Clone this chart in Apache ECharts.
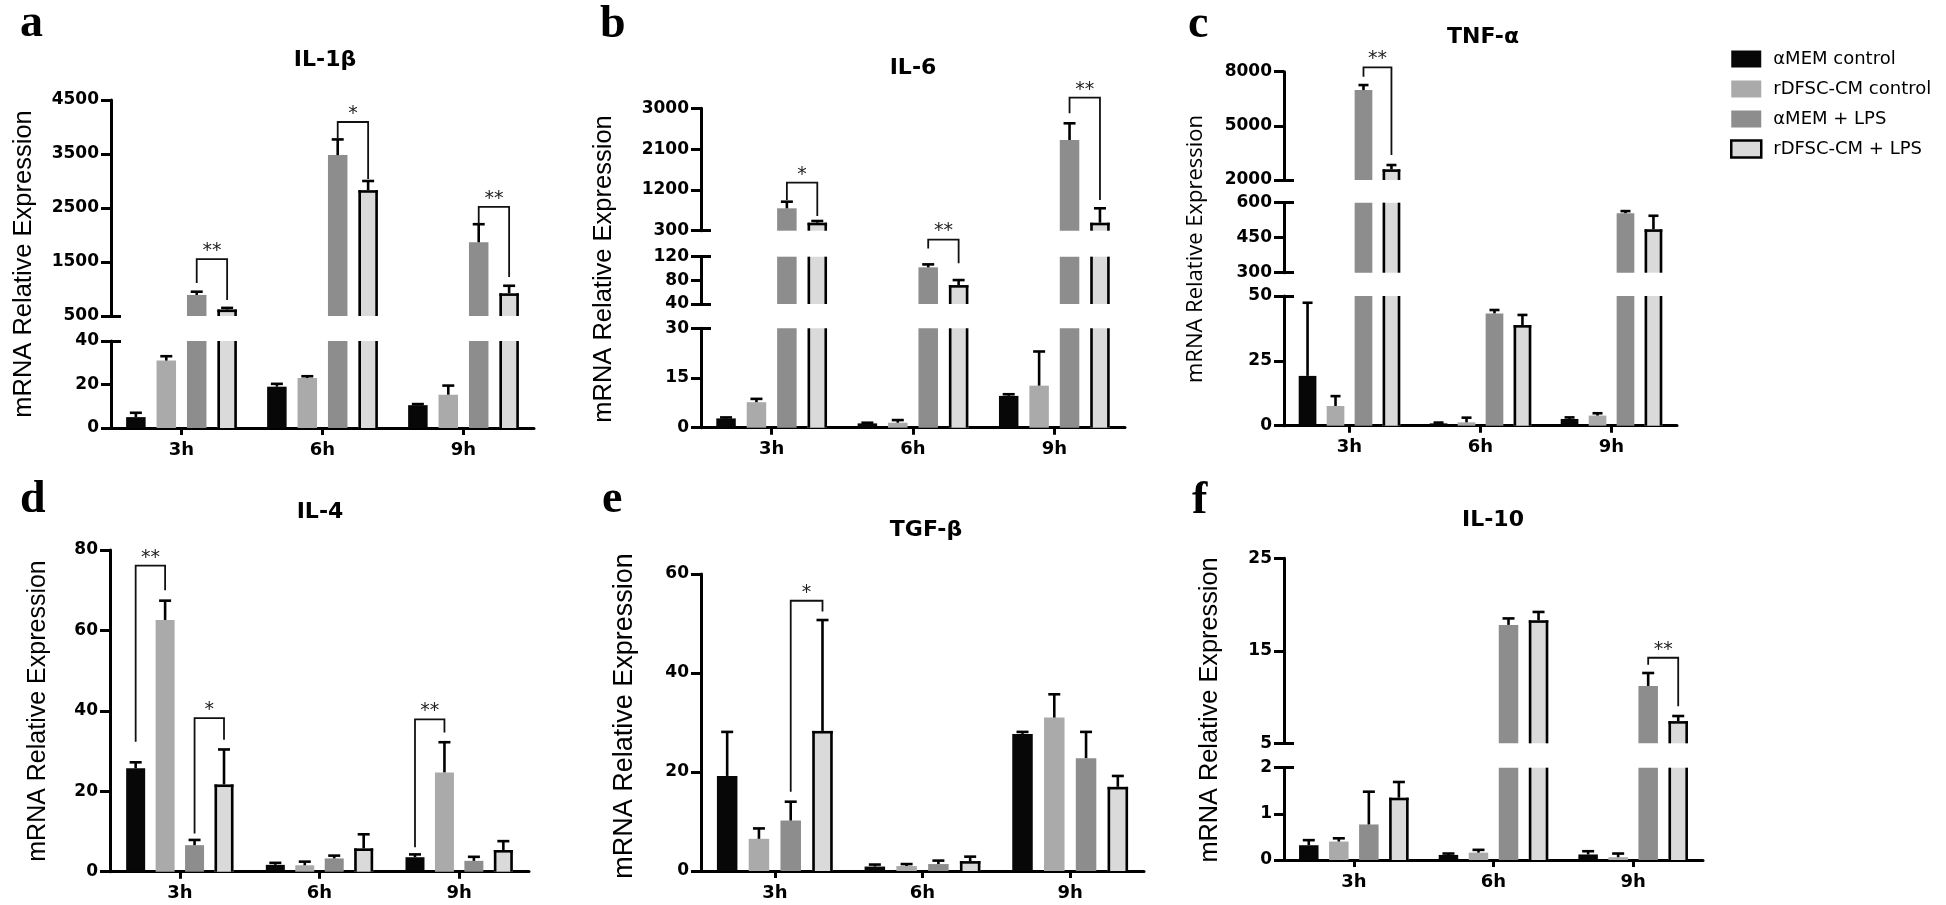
<!DOCTYPE html>
<html><head><meta charset="utf-8">
<script src="https://cdn.jsdelivr.net/npm/echarts@6/dist/echarts.min.js"></script>
<style>html,body{margin:0;padding:0;background:#fff}#c{width:1946px;height:905px}</style>
</head><body><div id="c"></div>
<script>
// ---------- data ----------
const categories = ['3h', '6h', '9h'];
const groups = ['αMEM control', 'rDFSC-CM control', 'αMEM + LPS', 'rDFSC-CM + LPS'];

// a) IL-1β  (rows = groups, columns = categories)
const il1bMean = [[5, 19, 10.5], [31, 23, 15.3], [890, 3480, 1865], [620, 2830, 920]];
const il1bErr  = [[2, 1.3, 0.5], [2, 0.8, 4.2], [60, 290, 335], [30, 170, 140]];
const il1bTicksUpper = [500, 1500, 2500, 3500, 4500];
const il1bTicksLower = [0, 20, 40];
// [category, leftGroup, rightGroup, top, leftEnd, rightEnd, label, segment]
const il1bSig = [[0, 2, 3, 1555, 1111, 796, '**', 0], [1, 2, 3, 4093, 3796, 3037, '*', 0], [2, 2, 3, 2519, 2204, 1222, '**', 0]];

// b) IL-6
const il6Mean = [[2.8, 1.3, 9.6], [7.7, 1.5, 12.7], [794, 102, 2301], [476, 72, 476]];
const il6Err  = [[0.3, 0.2, 0.5], [1.0, 0.8, 10.3], [146, 5, 368], [38, 8.5, 318]];
const il6TicksUpper = [300, 1200, 2100, 3000];
const il6TicksMiddle = [40, 80, 120];
const il6TicksLower = [0, 15, 30];
const il6Sig = [[0, 2, 3, 1359, 977, 624, '*', 0], [1, 2, 3, 149, 134, 109, '**', 1], [2, 2, 3, 3234, 2890, 977, '**', 0]];

// c) TNF-α
const tnfMean = [[19.2, 0.9, 2.6], [7.6, 1.3, 3.9], [6983, 43.3, 555], [2592, 38.8, 486]];
const tnfErr  = [[28.2, 0.3, 0.6], [3.8, 1.8, 0.9], [277, 1.3, 9], [238, 3.9, 58]];
const tnfTicksUpper = [2000, 5000, 8000];
const tnfTicksMiddle = [300, 450, 600];
const tnfTicksLower = [0, 25, 50];
const tnfSig = [[0, 2, 3, 8240, 7720, 3384, '**', 0]];

// d) IL-4
const il4Mean = [[25.7, 1.7, 3.6], [62.6, 1.6, 24.7], [6.6, 3.3, 2.7], [21.7, 5.8, 5.4]];
const il4Err  = [[1.5, 0.5, 0.7], [4.8, 0.9, 7.5], [1.3, 0.7, 1.0], [8.7, 3.5, 2.2]];
const il4Ticks = [0, 20, 40, 60, 80];
const il4Sig = [[0, 0, 1, 76.1, 32.3, 70, '**', 0], [0, 2, 3, 38.2, 9.5, 32.8, '*', 0], [2, 0, 1, 37.9, 6.1, 34.6, '**', 0]];

// e) TGF-β
const tgfMean = [[19.2, 0.9, 27.7], [6.5, 1.0, 31], [10.2, 1.4, 22.8], [28.3, 2.0, 17.0]];
const tgfErr  = [[8.9, 0.4, 0.4], [2.1, 0.4, 4.7], [3.8, 0.7, 5.3], [22.4, 0.9, 2.2]];
const tgfTicks = [0, 20, 40, 60];
const tgfSig = [[0, 2, 3, 54.6, 16.0, 52.4, '*', 0]];

// f) IL-10
const il10Mean = [[0.32, 0.11, 0.12], [0.40, 0.16, 0.06], [0.77, 17.8, 11.2], [1.35, 18.3, 7.4]];
const il10Err  = [[0.11, 0.03, 0.07], [0.07, 0.06, 0.08], [0.71, 0.7, 1.4], [0.34, 0.9, 0.55]];
const il10TicksUpper = [5, 15, 25];
const il10TicksLower = [0, 1, 2];
const il10Sig = [[2, 2, 3, 14.25, 13.5, 9.0, '**', 0]];

// ---------- styling / layout ----------
const colors = ['#070707', '#aaaaaa', '#8d8d8d', '#dadada'];
const AXIS = '#000';

const panels = [
  { title: 'IL-1β', letter: 'a', mean: il1bMean, err: il1bErr, sig: il1bSig,
    left: 111, width: 423, barW: 19.5, gap: 0.56, capW: 12,
    segs: [{ min: 500, max: 4500, top: 100, bottom: 316, ticks: il1bTicksUpper, breaks: [500] },
           { min: 0, max: 40, top: 341, bottom: 428, ticks: il1bTicksLower, breaks: [40] }],
    titlePos: [325, 60], letterPos: [20, 24], namePos: [24, 264], nameSize: 25.5, nameFont: 'Liberation Sans' },
  { title: 'IL-6', letter: 'b', mean: il6Mean, err: il6Err, sig: il6Sig,
    left: 701, width: 424, barW: 19.5, gap: 0.56, capW: 12,
    segs: [{ min: 300, max: 3000, top: 108.3, bottom: 230.7, ticks: il6TicksUpper, breaks: [300] },
           { min: 40, max: 120, top: 256.7, bottom: 304, ticks: il6TicksMiddle, breaks: [40, 120] },
           { min: 0, max: 30, top: 328.3, bottom: 427.7, ticks: il6TicksLower, breaks: [30] }],
    titlePos: [913, 68], letterPos: [600, 25], namePos: [604, 269], nameSize: 25.5, nameFont: 'Liberation Sans' },
  { title: 'TNF-α', letter: 'c', mean: tnfMean, err: tnfErr, sig: tnfSig,
    left: 1284, width: 393, barW: 17.7, gap: 0.58, capW: 10,
    segs: [{ min: 2000, max: 8000, top: 71.7, bottom: 180, ticks: tnfTicksUpper, breaks: [2000] },
           { min: 300, max: 600, top: 202.7, bottom: 272.7, ticks: tnfTicksMiddle, breaks: [300, 600] },
           { min: 0, max: 50, top: 296, bottom: 425.7, ticks: tnfTicksLower, breaks: [50] }],
    titlePos: [1483, 37], letterPos: [1188, 25], namePos: [1196, 249], nameSize: 22, nameFont: 'Open Sans' },
  { title: 'IL-4', letter: 'd', mean: il4Mean, err: il4Err, sig: il4Sig,
    left: 110, width: 419, barW: 19, gap: 0.55, capW: 12,
    segs: [{ min: 0, max: 80, top: 550, bottom: 871.7, ticks: il4Ticks, breaks: [] }],
    titlePos: [320, 512], letterPos: [20, 500], namePos: [38, 711], nameSize: 25, nameFont: 'Liberation Sans' },
  { title: 'TGF-β', letter: 'e', mean: tgfMean, err: tgfErr, sig: tgfSig,
    left: 701, width: 443, barW: 20.5, gap: 0.55, capW: 12,
    segs: [{ min: 0, max: 60, top: 574, bottom: 871, ticks: tgfTicks, breaks: [] }],
    titlePos: [926, 530], letterPos: [602, 500], namePos: [625, 716], nameSize: 27, nameFont: 'Liberation Sans' },
  { title: 'IL-10', letter: 'f', mean: il10Mean, err: il10Err, sig: il10Sig,
    left: 1284, width: 419, barW: 19.5, gap: 0.54, capW: 12,
    segs: [{ min: 5, max: 25, top: 558.3, bottom: 743.3, ticks: il10TicksUpper, breaks: [5] },
           { min: 0, max: 2, top: 767.7, bottom: 860, ticks: il10TicksLower, breaks: [2] }],
    titlePos: [1493, 520], letterPos: [1192, 501], namePos: [1210, 710], nameSize: 25.3, nameFont: 'Liberation Sans' }
];

function barCenter(api, p, cat, k) {
  const c = api.coord([cat, 0])[0];
  const w = p.barW, g = p.gap;
  const total = 4 * w + 3 * g * w;
  return c - total / 2 + k * (w + g * w) + w / 2;
}

function makeDecor(p, s) {
  return function (params, api) {
    const cat = api.value(0), k = api.value(1), v = api.value(2), e = api.value(3);
    const cx = barCenter(api, p, cat, k);
    const yOf = val => api.coord([cat, val])[1];
    const children = [];
    const lw = 2.6;
    if (k === 3 && v > s.min) {
      const yT = yOf(Math.min(v, s.max)), yB = yOf(s.min);
      const xl = cx - p.barW / 2 + lw / 2, xr = cx + p.barW / 2 - lw / 2;
      children.push({ type: 'line', shape: { x1: xl, y1: yB, x2: xl, y2: yT }, style: { stroke: '#000', lineWidth: lw } });
      children.push({ type: 'line', shape: { x1: xr, y1: yB, x2: xr, y2: yT }, style: { stroke: '#000', lineWidth: lw } });
      if (v <= s.max) {
        children.push({ type: 'line', shape: { x1: xl - lw / 2, y1: yT + lw / 2, x2: xr + lw / 2, y2: yT + lw / 2 }, style: { stroke: '#000', lineWidth: lw } });
      }
    }
    if (v >= s.min && v <= s.max) {
      const yT = yOf(v), yE = yOf(v + e);
      children.push({ type: 'line', shape: { x1: cx, y1: yT, x2: cx, y2: yE }, style: { stroke: '#000', lineWidth: 2.6 } });
      children.push({ type: 'line', shape: { x1: cx - p.capW / 2, y1: yE, x2: cx + p.capW / 2, y2: yE }, style: { stroke: '#000', lineWidth: 2.6 } });
    }
    return { type: 'group', children };
  };
}

function makeBracket(p, list) {
  return function (params, api) {
    const b = list[params.dataIndex];
    const cat = b[0];
    const xl = barCenter(api, p, cat, b[1]), xr = barCenter(api, p, cat, b[2]);
    const yTop = api.coord([cat, b[3]])[1], yL = api.coord([cat, b[4]])[1], yR = api.coord([cat, b[5]])[1];
    return { type: 'group', children: [
      { type: 'polyline', shape: { points: [[xl, yL], [xl, yTop], [xr, yTop], [xr, yR]] }, style: { stroke: '#111', lineWidth: 1.8, fill: null } },
      { type: 'text', style: { text: b[6], x: (xl + xr) / 2, y: yTop - 8, align: 'center', verticalAlign: 'middle', fontSize: 19, fontFamily: 'DejaVu Sans', fill: '#222' } }
    ] };
  };
}

const option = {
  animation: false,
  backgroundColor: '#fff',
  grid: [], xAxis: [], yAxis: [], series: [], graphic: [],
  legend: {
    orient: 'vertical', left: 1725, top: 44, itemWidth: 30, itemHeight: 17, itemGap: 10, icon: 'rect',
    selectedMode: false,
    textStyle: { fontFamily: 'DejaVu Sans', fontSize: 18, color: '#000', lineHeight: 20, padding: [0, 0, 0, 7] },
    data: groups.map((g, k) => ({ name: g, itemStyle: k === 3 ? { color: colors[3], borderColor: '#000', borderWidth: 2.5 } : { color: colors[k], borderWidth: 0 } }))
  }
};

panels.forEach(p => {
  p.segs.forEach((s, si) => {
    const gi = option.grid.length;
    const isBottom = si === p.segs.length - 1;
    option.grid.push({ left: p.left, width: p.width, top: s.top, height: s.bottom - s.top, containLabel: false, outerBoundsMode: 'none' });
    option.xAxis.push({
      type: 'category', gridIndex: gi, data: categories, show: isBottom,
      axisLine: { show: true, lineStyle: { color: AXIS, width: 3 } },
      axisTick: { show: true, alignWithLabel: true, length: 7, lineStyle: { color: AXIS, width: 3 } },
      axisLabel: { color: '#000', fontFamily: 'DejaVu Sans', fontWeight: 'bold', fontSize: 18, margin: 13 },
      splitLine: { show: false }
    });
    const yi = option.yAxis.length;
    option.yAxis.push({
      type: 'value', gridIndex: gi, min: s.min, max: s.max, position: 'left', offset: 0,
      splitLine: { show: false },
      axisLine: { show: true, lineStyle: { color: AXIS, width: 3 } },
      axisTick: { show: true, length: 10, lineStyle: { color: AXIS, width: 3 }, customValues: s.ticks },
      axisLabel: { customValues: s.ticks, formatter: v => String(v), color: '#000', fontFamily: 'DejaVu Sans', fontWeight: 'bold', fontSize: 17, margin: 12 }
    });
    if (s.breaks.length) {
      option.yAxis.push({
        type: 'value', gridIndex: gi, min: s.min, max: s.max, position: 'left', offset: 0,
        splitLine: { show: false }, axisLine: { show: false }, axisLabel: { show: false },
        axisTick: { show: true, inside: true, length: 10, lineStyle: { color: AXIS, width: 3 }, customValues: s.breaks }
      });
    }
    groups.forEach((g, k) => {
      option.series.push({
        type: 'bar', name: g, xAxisIndex: gi, yAxisIndex: yi, barWidth: p.barW, barGap: (p.gap * 100) + '%',
        clip: true, silent: true, z: 2,
        itemStyle: { color: colors[k] },
        data: p.mean[k].map(v => (v > s.min ? v : null))
      });
    });
    const decorData = [];
    p.mean.forEach((arr, k) => arr.forEach((v, c) => decorData.push([c, k, v, p.err[k][c]])));
    option.series.push({
      type: 'custom', xAxisIndex: gi, yAxisIndex: yi, z: 5, silent: true, clip: false,
      encode: { x: 0, y: 2 }, data: decorData, renderItem: makeDecor(p, s)
    });
    const br = p.sig.filter(b => b[7] === si);
    if (br.length) {
      option.series.push({
        type: 'custom', xAxisIndex: gi, yAxisIndex: yi, z: 6, silent: true, clip: false,
        encode: { x: 0, y: 3 }, data: br.map(b => b.slice(0, 6)), renderItem: makeBracket(p, br)
      });
    }
  });
  option.graphic.push({ type: 'text', x: p.titlePos[0], y: p.titlePos[1],
    style: { text: p.title, align: 'center', verticalAlign: 'middle', fontFamily: 'DejaVu Sans', fontWeight: 'bold', fontSize: 22, fill: '#000' } });
  option.graphic.push({ type: 'text', x: p.letterPos[0], y: p.letterPos[1],
    style: { text: p.letter, align: 'left', verticalAlign: 'middle', fontFamily: 'Liberation Serif', fontWeight: 'bold', fontSize: 46, fill: '#000' } });
  option.graphic.push({ type: 'text', x: p.namePos[0], y: p.namePos[1], rotation: Math.PI / 2,
    style: { text: 'mRNA Relative Expression', align: 'center', verticalAlign: 'middle', fontFamily: p.nameFont, fontSize: p.nameSize, fill: '#000' } });
});

const chart = echarts.init(document.getElementById('c'), null, { renderer: 'canvas' });
chart.setOption(option);
</script>
</body></html>
